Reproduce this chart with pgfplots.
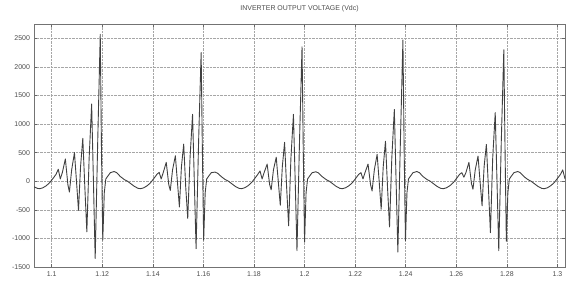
\documentclass[border=0pt]{standalone}
\usepackage{pgfplots}
\pgfplotsset{compat=1.18}
\usepackage{fontspec}
\setmainfont{Liberation Sans}
\begin{document}
\begin{tikzpicture}[x=1bp,y=1bp]
\useasboundingbox (0,0) rectangle (567,285);
\begin{axis}[
  at={(34bp,18bp)}, anchor=south west,
  scale only axis, width=531bp, height=243bp,
  xmin=1.093, xmax=1.303, ymin=-1500, ymax=2750,
  xtick={1.1,1.12,1.14,1.16,1.18,1.2,1.22,1.24,1.26,1.28,1.3},
  xticklabels={1.1,1.12,1.14,1.16,1.18,1.2,1.22,1.24,1.26,1.28,1.3},
  ytick={-1500,-1000,-500,0,500,1000,1500,2000,2500},
  yticklabels={-1500,-1000,-500,0,500,1000,1500,2000,2500},
  tick align=inside, major tick length=3bp,
  tick style={black!60, line width=0.6pt},
  axis line style={black!55, line width=0.8pt},
  grid=major,
  major grid style={black!35, densely dotted, line width=0.5pt},
  tick label style={font=\fontsize{7}{8}\selectfont, text=black!70},
  xticklabel style={yshift=-1bp},
  yticklabel style={xshift=-0.5bp},
  title={INVERTER OUTPUT VOLTAGE (Vdc)},
  title style={font=\fontsize{7}{8}\selectfont, text=black!70, at={(0.5,1)}, anchor=south, yshift=3bp},
  /pgf/number format/assume math mode=true,
  clip=true,
]
\addplot[black!75, line width=0.9pt, line join=round] coordinates {
(1.0927,-90) (1.0943,-125) (1.0953,-130) (1.0965,-115) (1.0978,-80) (1.0986,-50)
(1.0993,-20) (1.1007,60) (1.1017,120) (1.1026,210) (1.1034,40) (1.1042,150)
(1.1054,390) (1.1064,-60) (1.1070,-190) (1.1079,200) (1.1090,500) (1.1098,0)
(1.1106,-510) (1.1114,250) (1.1123,750) (1.1131,-100) (1.1139,-885) (1.1148,400)
(1.1158,1350) (1.1165,0) (1.1172,-1350) (1.1182,700) (1.1192,2570) (1.1197,500)
(1.1202,-1030) (1.1208,-200) (1.1214,40) (1.1222,90) (1.1232,150) (1.1247,170)
(1.1257,150) (1.1272,80) (1.1287,30) (1.1300,0) (1.1312,-40) (1.1327,-90)
(1.1342,-125) (1.1352,-130) (1.1364,-115) (1.1377,-80) (1.1385,-50)
(1.1392,-20) (1.1406,60) (1.1416,120) (1.1425,155) (1.1433,40) (1.1441,150)
(1.1453,330) (1.1463,-60) (1.1469,-160) (1.1478,200) (1.1489,445) (1.1497,0)
(1.1505,-450) (1.1513,250) (1.1522,650) (1.1530,-100) (1.1538,-650) (1.1547,400)
(1.1557,1170) (1.1564,0) (1.1571,-1180) (1.1581,700) (1.1591,2250) (1.1596,500)
(1.1601,-1030) (1.1607,-200) (1.1613,40) (1.1621,90) (1.1631,150) (1.1646,160)
(1.1656,140) (1.1671,80) (1.1686,30) (1.1699,0) (1.1711,-40) (1.1726,-90)
(1.1741,-125) (1.1751,-130) (1.1763,-115) (1.1776,-80) (1.1784,-50)
(1.1791,-20) (1.1805,60) (1.1815,120) (1.1824,180) (1.1832,40) (1.1840,150)
(1.1852,300) (1.1862,-60) (1.1868,-150) (1.1877,200) (1.1888,420) (1.1896,0)
(1.1904,-420) (1.1912,250) (1.1921,680) (1.1929,-100) (1.1937,-780) (1.1946,400)
(1.1956,1170) (1.1963,0) (1.1970,-1214) (1.1980,700) (1.1990,2350) (1.1995,500)
(1.2000,-1065) (1.2006,-200) (1.2012,40) (1.2020,90) (1.2030,150) (1.2045,165)
(1.2055,145) (1.2070,80) (1.2085,30) (1.2098,0) (1.2110,-40) (1.2125,-90)
(1.2140,-125) (1.2150,-130) (1.2162,-115) (1.2175,-80) (1.2183,-50)
(1.2190,-20) (1.2204,60) (1.2214,120) (1.2223,150) (1.2231,40) (1.2239,150)
(1.2251,300) (1.2261,-60) (1.2267,-170) (1.2276,200) (1.2287,470) (1.2295,0)
(1.2303,-490) (1.2311,250) (1.2320,700) (1.2328,-100) (1.2336,-800) (1.2345,400)
(1.2355,1254) (1.2362,0) (1.2369,-1240) (1.2379,700) (1.2389,2470) (1.2394,500)
(1.2399,-1040) (1.2405,-200) (1.2411,40) (1.2419,90) (1.2429,150) (1.2444,170)
(1.2454,150) (1.2469,80) (1.2484,30) (1.2497,0) (1.2509,-40) (1.2524,-90)
(1.2539,-125) (1.2549,-130) (1.2561,-115) (1.2574,-80) (1.2582,-50)
(1.2589,-20) (1.2603,60) (1.2613,120) (1.2622,150) (1.2630,70) (1.2638,150)
(1.2650,330) (1.2660,-40) (1.2666,-140) (1.2675,200) (1.2686,440) (1.2694,0)
(1.2702,-430) (1.2710,250) (1.2719,645) (1.2727,-100) (1.2735,-900) (1.2744,400)
(1.2754,1200) (1.2761,0) (1.2768,-1214) (1.2778,700) (1.2788,2300) (1.2793,500)
(1.2798,-1050) (1.2804,-200) (1.2810,40) (1.2818,90) (1.2828,150) (1.2843,170)
(1.2853,150) (1.2868,80) (1.2883,30) (1.2896,0) (1.2908,-40) (1.2923,-90)
(1.2938,-125) (1.2948,-130) (1.2960,-115) (1.2973,-80) (1.2981,-50)
(1.2988,-20) (1.3002,60) (1.3012,120) (1.3021,200) (1.3030,40)
};
\end{axis}
\end{tikzpicture}
\end{document}
